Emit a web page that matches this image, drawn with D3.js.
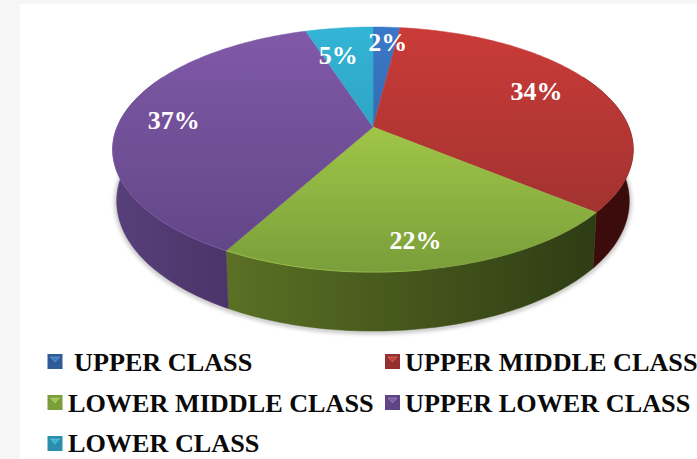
<!DOCTYPE html>
<html>
<head>
<meta charset="utf-8">
<script src="https://cdn.jsdelivr.net/npm/d3@7/dist/d3.min.js"></script>
<style>
  html, body { margin: 0; padding: 0; background: #f6f6f6; }
  svg { display: block; }
</style>
</head>
<body>
<div id="chart"></div>
<script>
const categories = ["UPPER CLASS", "UPPER MIDDLE CLASS", "LOWER MIDDLE CLASS", "UPPER LOWER CLASS", "LOWER CLASS"];
const values = [2, 34, 22, 37, 5];
const labels = ["2%", "34%", "22%", "37%", "5%"];
const topLight = ["#3a78c8", "#ca3b38", "#a0c648", "#8159a8", "#33b4d6"];
const topDark = ["#2f5b97", "#96302e", "#7a9e3a", "#5f4585", "#2a8fad"];
const sideLight = ["#2a4a78", "#5a1512", "#688029", "#57407a", "#1f6a82"];
const sideDark = ["#1f3658", "#3a0c0b", "#2a3712", "#1d0a2a", "#164c5e"];

const width = 697, height = 459;
const cx = 373, cy = 127;
const rimX = 255.8, rimY = 118.4, tilt = 0.184;

const svg = d3.select("#chart").append("svg").attr("width", width).attr("height", height);
const defs = svg.append("defs");

svg.append("rect").attr("x", 20).attr("y", 4).attr("width", width - 20).attr("height", height - 4).attr("fill", "#fff");

// flat circle angle -> point on the tilted disc
const project = (a, drop) => {
  const u = Math.sin(a), v = -Math.cos(a), w = 1 - tilt * v;
  const x = cx + rimX * u / w, y = cy + rimY * v / w;
  if (!drop) return [x, y];
  return [cx + (x - cx) * 0.985, y + 50 + 9 * v];
};

const arcs = d3.pie().sort(null).value((d) => d)(values);

const rimPoints = (a0, a1, drop) => {
  const n = Math.max(4, Math.ceil((a1 - a0) * 60));
  return d3.range(n + 1).map((i) => project(a0 + (a1 - a0) * i / n, drop));
};
const line = d3.line();

const blur = defs.append("filter").attr("id", "soft").attr("x", "-10%").attr("y", "-10%").attr("width", "120%").attr("height", "120%");
blur.append("feGaussianBlur").attr("stdDeviation", 2);

arcs.forEach((d, i) => {
  const g = defs.append("linearGradient").attr("id", "top" + i).attr("gradientUnits", "userSpaceOnUse")
    .attr("x1", 0).attr("x2", 0).attr("y1", 27).attr("y2", 272);
  g.append("stop").attr("offset", i === 2 ? 0.4 : 0).attr("stop-color", topLight[i]);
  g.append("stop").attr("offset", 1).attr("stop-color", topDark[i]);
  const s = defs.append("linearGradient").attr("id", "side" + i).attr("gradientUnits", "userSpaceOnUse")
    .attr("x1", 113).attr("x2", 634).attr("y1", 0).attr("y2", 0);
  s.append("stop").attr("offset", 0).attr("stop-color", sideLight[i]);
  s.append("stop").attr("offset", 1).attr("stop-color", sideDark[i]);
});

// soft shadow under the disc
const front = rimPoints(Math.PI * 0.4, Math.PI * 1.6, true);
svg.append("path")
  .attr("d", line(front.map((p) => [p[0], p[1] + 1])))
  .attr("fill", "none").attr("stroke", "#999").attr("stroke-width", 2.5).attr("filter", "url(#soft)");

// side wall, the face covers whatever sticks out behind it
const wall = svg.append("g");
arcs.forEach((d, i) => {
  const a0 = Math.max(d.startAngle, Math.PI * 0.35), a1 = Math.min(d.endAngle, Math.PI * 1.65);
  if (a1 <= a0) return;
  const upper = rimPoints(a0, a1, false), lower = rimPoints(a0, a1, true).reverse();
  wall.append("path").attr("d", line(upper.concat(lower)) + "Z")
    .attr("fill", `url(#side${i})`).attr("stroke", `url(#side${i})`).attr("stroke-width", 0.5);
});

// top face
const face = svg.append("g");
arcs.forEach((d, i) => {
  face.append("path").attr("d", line([[cx, cy]].concat(rimPoints(d.startAngle, d.endAngle, false))) + "Z")
    .attr("fill", `url(#top${i})`).attr("stroke", `url(#top${i})`).attr("stroke-width", 0.5);
});

// thin light edge along the left part of the front rim
arcs.forEach((d, i) => {
  const a0 = Math.max(d.startAngle, Math.PI * 0.95), a1 = Math.min(d.endAngle, Math.PI * 1.5);
  if (a1 <= a0) return;
  face.append("path").attr("d", line(rimPoints(a0, a1, false)))
    .attr("fill", "none").attr("stroke", topLight[i]).attr("stroke-opacity", 0.7).attr("stroke-width", 1);
});

// value labels
const labelFrac = [0.86, 0.72, 0.66, 0.72, 0.76];
const labelShift = [[3, 4], [3, -4], [4, 22], [-19, 4], [-9, 6]];
svg.append("g").selectAll("text").data(arcs).join("text")
  .each(function (d, i) {
    const a = (d.startAngle + d.endAngle) / 2, p = project(a, false);
    d3.select(this)
      .attr("x", cx + (p[0] - cx) * labelFrac[i] + labelShift[i][0])
      .attr("y", cy + (p[1] - cy) * labelFrac[i] + labelShift[i][1]);
  })
  .attr("text-anchor", "middle").attr("dominant-baseline", "middle")
  .attr("font-family", "'Liberation Serif', serif").attr("font-weight", "bold").attr("font-size", 26)
  .attr("fill", "#fff").text((d, i) => labels[i]);

// legend
const legendX = [47.5, 385, 47.5, 385, 47.5], legendTextX = [74, 405, 68, 405, 68], legendY = [362, 362, 403, 403, 444];
const legend = svg.append("g").selectAll("g").data(categories).join("g");
legend.append("rect").attr("x", (d, i) => legendX[i]).attr("y", (d, i) => legendY[i] - 8)
  .attr("width", 15).attr("height", 15).attr("fill", (d, i) => topDark[i]);
legend.append("path")
  .attr("d", (d, i) => `M${legendX[i] + 3},${legendY[i] - 5}h9l-4.5,5Z`)
  .attr("fill", (d, i) => topLight[i]).attr("stroke", "#fff").attr("stroke-opacity", 0.4).attr("stroke-width", 0.6);
legend.append("text").attr("x", (d, i) => legendTextX[i]).attr("y", (d, i) => legendY[i] + (i === 4 ? 8 : 9))
  .attr("font-family", "'Liberation Serif', serif").attr("font-weight", "bold").attr("font-size", 26.2)
  .attr("fill", "#0a0a0a").text((d) => d);
</script>
</body>
</html>
